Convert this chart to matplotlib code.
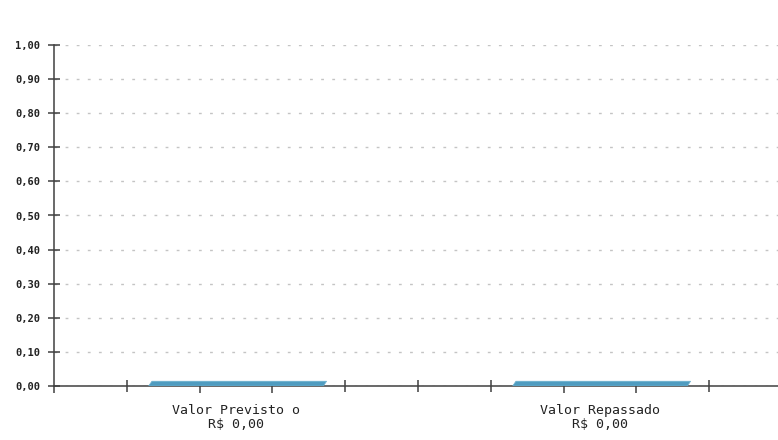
import matplotlib
matplotlib.use("Agg")
import matplotlib.pyplot as plt
from matplotlib.patches import Polygon
from matplotlib.ticker import FuncFormatter

# ================================
# DATA
# ================================
categories = ["Valor Previsto o", "Valor Repassado"]
values = [0.00, 0.00]
value_labels = ["R$ 0,00", "R$ 0,00"]
y_ticks = [0.0, 0.1, 0.2, 0.3, 0.4, 0.5, 0.6, 0.7, 0.8, 0.9, 1.0]

# ================================
# STYLE
# ================================
plt.rcParams["lines.scale_dashes"] = False
mono = "DejaVu Sans Mono"
axis_color = "#404040"
bar_color = "#4f9cc0"
bar_width = 0.48
depth = 0.014      # fake 3D top face height (data units)
skew = 0.009       # horizontal shift of the top face

W, H = 778, 440
fig = plt.figure(figsize=(W / 100, H / 100), dpi=100)
ax = fig.add_axes([54 / W, 54 / H, 724 / W, 341 / H])

x = list(range(len(categories)))

# bars (zero height) plus a thin slanted top face
ax.bar(x, values, width=bar_width, color=bar_color, zorder=3)
for xi, v in zip(x, values):
    x0 = xi - bar_width / 2
    x1 = xi + bar_width / 2
    face = Polygon(
        [(x0, v), (x1, v), (x1 + skew, v + depth), (x0 + skew, v + depth)],
        closed=True, facecolor=bar_color, edgecolor="#6fb2d0", linewidth=0.5,
        zorder=3,
    )
    ax.add_patch(face)

ax.set_xlim(-0.5, 1.489)
ax.set_ylim(0, 1.0)

# y axis
ax.set_yticks(y_ticks)
ax.yaxis.set_major_formatter(FuncFormatter(lambda v, p: f"{v:.2f}".replace(".", ",")))
ax.tick_params(axis="y", direction="inout", length=8, width=1.1, color=axis_color,
               pad=6, labelsize=7.5, labelcolor="#222222")
for lbl in ax.get_yticklabels():
    lbl.set_fontfamily(mono)
    lbl.set_fontweight("bold")

ax.yaxis.grid(True, color="#c4c4c4", linewidth=1.0, linestyle=(0, (2, 6)))
ax.set_axisbelow(True)

# x axis tick marks (no labels)
ax.set_xticks([-0.3, 0.3, 0.5, 0.7, 1.3])
ax.set_xticks([-0.5, -0.1, 0.1, 0.9, 1.1], minor=True)
ax.tick_params(axis="x", which="major", direction="inout", length=9, width=1.1,
               color=axis_color, labelbottom=False)
ax.tick_params(axis="x", which="minor", direction="out", length=5, width=1.1,
               color=axis_color, labelbottom=False)

# category labels
for xi, cat, lab in zip(x, categories, value_labels):
    ax.annotate(f"{cat}\n{lab}", xy=(xi, 0), xycoords=("data", "axes fraction"),
                xytext=(0, -13), textcoords="offset points", ha="center", va="top",
                fontsize=9.5, family=mono, color="#222222", linespacing=1.05)

for side in ["top", "right"]:
    ax.spines[side].set_visible(False)
for side in ["left", "bottom"]:
    ax.spines[side].set_color(axis_color)
    ax.spines[side].set_linewidth(1.1)

fig.savefig("out.png", dpi=100)
